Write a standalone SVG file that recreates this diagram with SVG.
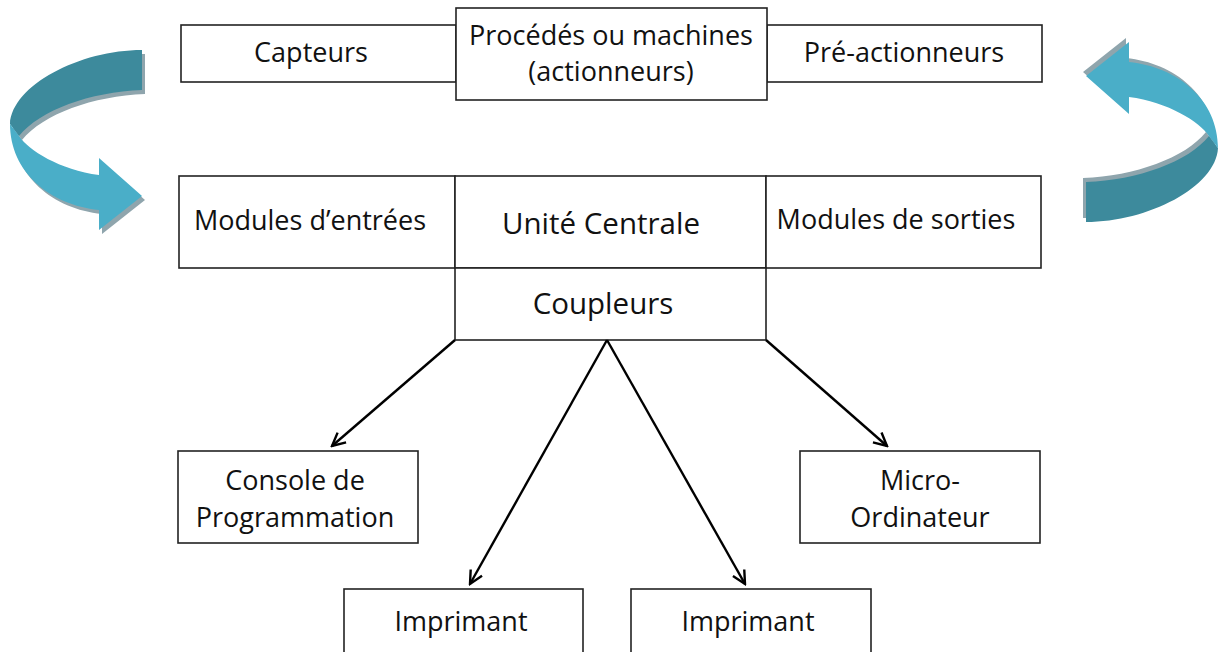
<svg xmlns="http://www.w3.org/2000/svg" xmlns:xlink="http://www.w3.org/1999/xlink" width="1219" height="652" viewBox="0 0 1219 652">
  <style>
    .box { fill: #ffffff; stroke: #222222; stroke-width: 1.6; }
    .lbl { font-family: "Open Sans", "Liberation Sans", sans-serif; font-size: 27px; fill: #111111; text-anchor: middle; }
    .big { font-size: 29.5px; }
    .conn { stroke: #000000; stroke-width: 2.4; fill: none; marker-end: url(#head); }
    .shadow { fill: #8fa5ad; }
    .dark { fill: #3d8a9c; }
    .light { fill: #4aaec8; }
  </style>
  <defs>
    <marker id="head" viewBox="0 0 16 16" refX="14" refY="8" markerWidth="16" markerHeight="16" markerUnits="userSpaceOnUse" orient="auto">
      <path d="M1,1.5 L14,8 L1,14.5" fill="none" stroke="#000" stroke-width="2.4"/>
    </marker>
    <!-- curved ribbon arrow, head pointing right -->
    <g id="ribbon">
      <g class="shadow" transform="translate(3,4)">
        <path d="M142,50 C80,50 12,85 10,124 L19,136 C40,110 90,92 142,90 Z"/>
        <path d="M10,124 C10,172 50,205 99,210 L99,230 L142,196 L99,158 L99,175 C60,170 28,150 19,136 Z"/>
      </g>
      <path class="dark" d="M142,50 C80,50 12,85 10,124 L19,136 C40,110 90,92 142,90 Z"/>
      <path class="light" d="M10,124 C10,172 50,205 99,210 L99,230 L142,196 L99,158 L99,175 C60,170 28,150 19,136 Z"/>
    </g>
  </defs>

  <!-- loop arrows -->
  <g id="loop-left"><use xlink:href="#ribbon"/></g>
  <g id="loop-right"><use xlink:href="#ribbon" transform="matrix(-1 0 0 -1 1228 272)"/></g>

  <!-- top row -->
  <g id="capteurs">
    <rect class="box" x="181" y="25" width="275" height="57"/>
    <text class="lbl" x="311" y="62">Capteurs</text>
  </g>
  <g id="preactionneurs">
    <rect class="box" x="767" y="25" width="275" height="57"/>
    <text class="lbl" x="904" y="62">Pré-actionneurs</text>
  </g>
  <g id="procedes">
    <rect class="box" x="456" y="8" width="311" height="92"/>
    <text class="lbl" x="611" y="45">Procédés ou machines</text>
    <text class="lbl" x="611" y="81">(actionneurs)</text>
  </g>

  <!-- automate -->
  <g id="modules-entrees">
    <rect class="box" x="179" y="176" width="276" height="92"/>
    <text class="lbl" x="310" y="230">Modules d’entrées</text>
  </g>
  <g id="unite-centrale">
    <rect class="box" x="455" y="176" width="311" height="92"/>
    <text class="lbl big" x="601" y="234">Unité Centrale</text>
  </g>
  <g id="modules-sorties">
    <rect class="box" x="766" y="176" width="275" height="92"/>
    <text class="lbl" x="896" y="229">Modules de sorties</text>
  </g>
  <g id="coupleurs">
    <rect class="box" x="455" y="268" width="311" height="72"/>
    <text class="lbl big" x="603" y="314">Coupleurs</text>
  </g>

  <!-- peripherals -->
  <g id="console">
    <rect class="box" x="178" y="451" width="240" height="92"/>
    <text class="lbl" x="295" y="490">Console de</text>
    <text class="lbl" x="295" y="527">Programmation</text>
  </g>
  <g id="micro">
    <rect class="box" x="800" y="451" width="240" height="92"/>
    <text class="lbl" x="920" y="490">Micro-</text>
    <text class="lbl" x="920" y="527">Ordinateur</text>
  </g>
  <g id="imprimant-1">
    <rect class="box" x="344" y="589" width="239" height="70"/>
    <text class="lbl" x="461" y="631">Imprimant</text>
  </g>
  <g id="imprimant-2">
    <rect class="box" x="631" y="589" width="240" height="70"/>
    <text class="lbl" x="748" y="631">Imprimant</text>
  </g>

  <!-- connectors -->
  <g id="connectors">
    <line class="conn" x1="455" y1="340" x2="332" y2="446"/>
    <line class="conn" x1="607" y1="340" x2="470" y2="584"/>
    <line class="conn" x1="607" y1="340" x2="745" y2="584"/>
    <line class="conn" x1="766" y1="340" x2="887" y2="446"/>
  </g>
</svg>
